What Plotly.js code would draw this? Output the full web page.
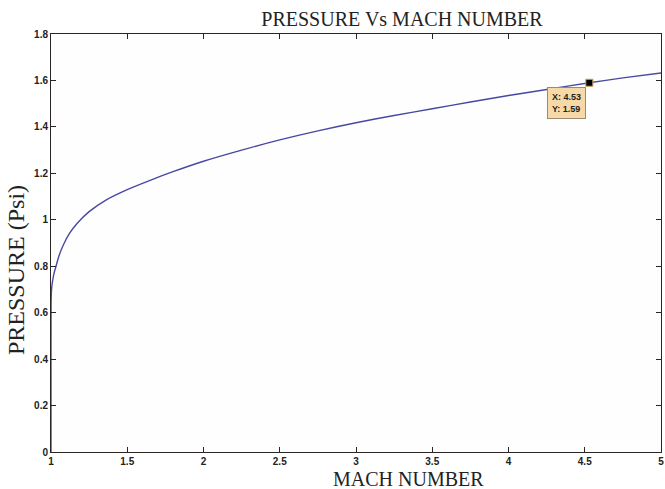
<!DOCTYPE html>
<html>
<head>
<meta charset="utf-8">
<script src="https://cdn.plot.ly/plotly-3.0.1.min.js"></script>
<style>html,body{margin:0;padding:0;background:#fff;}#chart{width:665px;height:489px;}</style>
</head>
<body>
<div id="chart"></div>
<script>
// Mach number (x) and pressure in Psi (y)
var machNumber = [1.0, 1.0, 1.0005, 1.002, 1.005, 1.01, 1.02, 1.033, 1.05, 1.08, 1.12, 1.172, 1.25, 1.36, 1.5, 1.65, 1.8, 2.0, 2.25, 2.5, 2.75, 3.0, 3.25, 3.5, 3.75, 4.0, 4.25, 4.53, 4.75, 5.0];
var pressurePsi = [0.0, 0.35, 0.64, 0.68, 0.71, 0.735, 0.77, 0.80, 0.84, 0.89, 0.94, 0.985, 1.035, 1.085, 1.13, 1.17, 1.207, 1.252, 1.300, 1.344, 1.383, 1.418, 1.449, 1.478, 1.507, 1.535, 1.561, 1.59, 1.611, 1.632];
var xTickVals = [1, 1.5, 2, 2.5, 3, 3.5, 4, 4.5, 5];
var xTickText = ["1", "1.5", "2", "2.5", "3", "3.5", "4", "4.5", "5"];
var yTickVals = [0, 0.2, 0.4, 0.6, 0.8, 1.0, 1.2, 1.4, 1.6, 1.8];
var yTickText = ["0", "0.2", "0.4", "0.6", "0.8", "1", "1.2", "1.4", "1.6", "1.8"];
var tipX = [4.53];
var tipY = [1.59];

var axisColor = '#2b2424';
var tickFont = {family: 'Arial, Liberation Sans, sans-serif', size: 10, color: '#222', weight: 'bold'};
var serif = 'Times New Roman, Liberation Serif, serif';

var traces = [
  {x: machNumber, y: pressurePsi, type: 'scatter', mode: 'lines',
   line: {color: '#4848a2', width: 1.4, shape: 'spline', smoothing: 0.8}, hoverinfo: 'skip', showlegend: false},
  {x: tipX, y: tipY, type: 'scatter', mode: 'markers',
   marker: {symbol: 'square', size: 7, color: '#000', line: {color: '#c8a060', width: 1}},
   hoverinfo: 'skip', showlegend: false}
];

var layout = {
  width: 665, height: 489,
  margin: {l: 51, r: 4, t: 34, b: 37},
  paper_bgcolor: '#ffffff', plot_bgcolor: '#fefefe',
  showlegend: false,
  title: {text: 'PRESSURE Vs MACH NUMBER', font: {family: serif, size: 20, color: '#222'},
          x: 402 / 665, xanchor: 'center', xref: 'container', y: 1 - 19 / 489, yanchor: 'middle', yref: 'container'},
  xaxis: {range: [1, 5], tickvals: xTickVals, ticktext: xTickText, tickfont: tickFont,
          ticks: 'inside', ticklen: 5, tickwidth: 1, tickcolor: axisColor,
          showline: true, linecolor: axisColor, linewidth: 1, mirror: 'ticks',
          showgrid: false, zeroline: false, fixedrange: true},
  yaxis: {range: [0, 1.8], tickvals: yTickVals, ticktext: yTickText, tickfont: tickFont,
          ticks: 'inside', ticklen: 5, tickwidth: 1, tickcolor: axisColor,
          showline: true, linecolor: axisColor, linewidth: 1, mirror: 'ticks',
          showgrid: false, zeroline: false, fixedrange: true},
  annotations: [
    {text: 'MACH NUMBER', xref: 'paper', yref: 'paper', x: (408 - 51) / 610, y: (452 - 479) / 418,
     xanchor: 'center', yanchor: 'middle', showarrow: false, font: {family: serif, size: 20, color: '#222'}},
    {text: 'PRESSURE (Psi)', xref: 'paper', yref: 'paper', x: 0, xshift: -35, y: (452 - 270) / 418,
     xanchor: 'center', yanchor: 'middle', textangle: -90, showarrow: false, font: {family: serif, size: 24, color: '#222'}},
    {text: 'X: ' + tipX[0].toFixed(2) + '<br>Y: ' + tipY[0].toFixed(2), x: tipX[0], y: tipY[0], xref: 'x', yref: 'y',
     xanchor: 'right', yanchor: 'top', xshift: -3, yshift: -4, showarrow: false, align: 'left',
     bgcolor: '#f6d9a6', bordercolor: '#9a8a70', borderwidth: 1, borderpad: 4,
     font: {family: 'Arial, Liberation Sans, sans-serif', size: 9, color: '#222', weight: 'bold'}}
  ]
};

Plotly.newPlot('chart', traces, layout, {staticPlot: true, displayModeBar: false});
</script>
</body>
</html>
